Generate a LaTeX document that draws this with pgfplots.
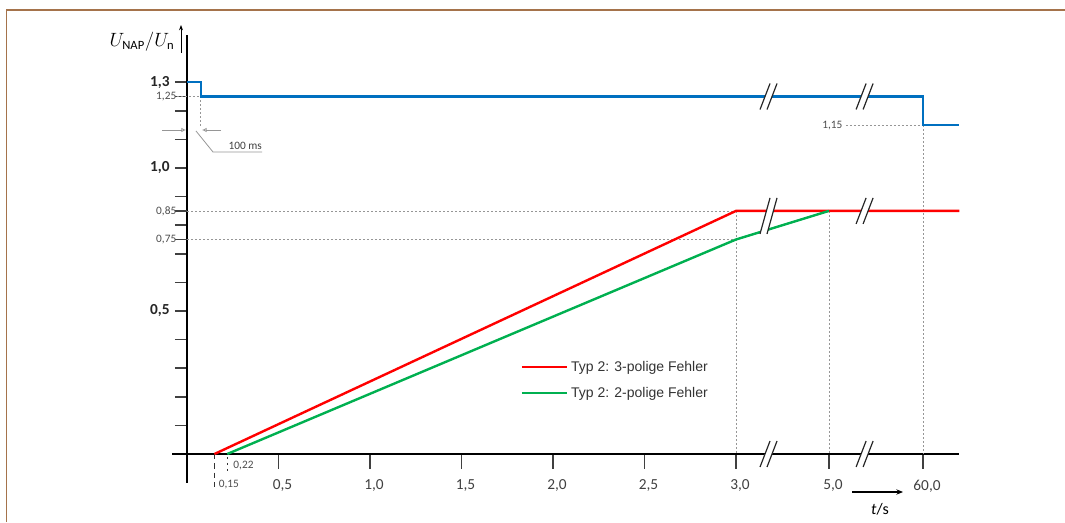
\documentclass[border=0pt]{standalone}
\usepackage{fontspec}
\setmainfont{Carlito}
\newfontfamily\arialfont{Liberation Sans}
\usepackage{pgfplots}
\pgfplotsset{compat=1.18}
\usetikzlibrary{arrows.meta}
\definecolor{myblue}{RGB}{0,112,192}
\definecolor{myred}{RGB}{255,0,0}
\definecolor{mygreen}{RGB}{0,176,80}
\definecolor{framec}{RGB}{165,115,75}
\definecolor{guide}{RGB}{150,150,150}
\newcommand{\smallf}{\fontsize{8.5}{10}\selectfont}
\newcommand{\brk}[2][0]{%
  \begin{scope}[shift={(#2)}]
    \fill[white] (-8,-13-#1) -- (-1,-13-#1) -- (9,13) -- (2,13) -- cycle;
    \draw[line width=0.9pt, black!85] (-8,-13-#1) -- (2,13) (-1,-13-#1) -- (9,13);
  \end{scope}}
\begin{document}
\begin{tikzpicture}[x=0.75pt,y=0.75pt]
\path[use as bounding box] (0,0) rectangle (1065,522);
\draw[framec, line width=1.2pt] (6.5,0) -- (6.5,512) -- (1065,512);
\begin{axis}[
  at={(140.25pt,51pt)}, anchor=origin,
  x=137.25pt, y=214.5pt,
  xmin=-0.08, xmax=4.22, ymin=-0.1, ymax=1.465,
  axis lines=middle,
  axis line style={line width=1.5pt,-},
  clip=false,
  tick align=outside,
  every tick/.style={line width=1.1pt, black!75},
  xtick={0.5,1,1.5,2,2.5,3,3.508,4.022},
  xticklabels={{0,5},{1,0},{1,5},{2,0},{2,5},{3,0},{5,0},{60,0}},
  xtick style={/pgfplots/major tick length=11pt},
  xticklabel style={font=\fontsize{11.5}{13}\selectfont, text=black!75, xshift=3pt, yshift=-11.5pt},
  ytick={0.1,0.2,0.3,0.4,0.5,0.6,0.7,0.8,0.9,1.0,1.1,1.2,1.3},
  yticklabels={,,,,{\textbf{0,5}},,,,,{\textbf{1,0}},,,{\textbf{1,3}}},
  ytick style={/pgfplots/major tick length=9pt},
  yticklabel style={font=\fontsize{11.5}{13}\selectfont, text=black!85, xshift=-5.25pt},
  extra y ticks={0.75,0.85,1.25},
  extra y tick labels={{0,75},{0,85},{1,25}},
  extra y tick style={/pgfplots/major tick length=0pt, yticklabel style={font=\smallf, text=black!70, xshift=0.75pt}},
  legend style={at={(axis cs:1.80,0.345)}, anchor=north west, draw=none, fill=none,
    font=\arialfont\fontsize{10.5}{12}\selectfont, text=black!80, row sep=6.5pt},
  legend cell align=left,
  legend image code/.code={\draw[#1, line width=1.8pt] (0pt,0pt) -- (34pt,0pt);},
]
% guide lines
\draw[guide, line width=0.5pt, dash pattern=on 1.5pt off 1.5pt]
  (axis cs:0,0.85) -- (axis cs:3,0.85)
  (axis cs:0,0.75) -- (axis cs:3,0.75)
  (axis cs:3,0.85) -- (axis cs:3,0)
  (axis cs:3.508,0.85) -- (axis cs:3.508,0)
  (axis cs:4.022,1.15) -- (axis cs:4.022,0)
  (axis cs:3.60,1.15) -- (axis cs:4.022,1.15)
  (axis cs:-0.055,1.25) -- (axis cs:0.075,1.25)
  (axis cs:0.075,1.25) -- (axis cs:0.075,1.14);
\node[anchor=east, font=\smallf, text=black!70, inner sep=1pt] at (axis cs:3.59,1.15) {1,15};
% 0,15 and 0,22 markers
\draw[black!80, line width=1pt, dash pattern=on 4pt off 3pt] (axis cs:0.15,0) -- (axis cs:0.15,-0.118);
\node[anchor=west, font=\smallf, text=black!70, inner sep=1pt] at (axis cs:0.165,-0.108) {0,15};
\draw[black!80, line width=1pt, dash pattern=on 1.5pt off 3pt] (axis cs:0.22,-0.01) -- (axis cs:0.22,-0.06);
\node[anchor=west, font=\smallf, text=black!70, inner sep=1pt] at (axis cs:0.245,-0.042) {0,22};
% data
\addplot[myblue, line width=1.8pt, forget plot] coordinates {(0,1.3) (0.075,1.3) (0.075,1.25) (4.022,1.25) (4.022,1.15) (4.22,1.15)};
\addplot[myred, line width=1.8pt] coordinates {(0.15,0) (3.0,0.85) (4.22,0.85)};
\addlegendentry{Typ 2: 3-polige Fehler}
\addplot[mygreen, line width=1.8pt] coordinates {(0.22,0) (3.0,0.75) (3.508,0.85)};
\addlegendentry{Typ 2: 2-polige Fehler}
\coordinate (xb1) at (axis cs:3.175,0);
\coordinate (xb2) at (axis cs:3.70,0);
\coordinate (rb1) at (axis cs:3.175,0.85);
\coordinate (rb2) at (axis cs:3.70,0.85);
\coordinate (bb1) at (axis cs:3.175,1.25);
\coordinate (bb2) at (axis cs:3.70,1.25);
\end{axis}
\brk{xb1}\brk{xb2}\brk[10]{rb1}\brk{rb2}\brk{bb1}\brk{bb2}
% 100 ms annotation
\draw[guide, line width=0.6pt, -{Latex[open,length=3.5pt,width=3.5pt]}] (162,392) -- (186,392);
\draw[guide, line width=0.6pt, -{Latex[open,length=3.5pt,width=3.5pt]}] (221,392) -- (202,392);
\draw[guide, line width=0.6pt] (196,391) -- (213,370) -- (262,370);
\node[anchor=south west, inner sep=1pt, font=\fontsize{8.5}{10}\selectfont, text=black!75] at (227,371) {100 ms};
% axis titles
\node[font=\fontsize{13.5}{15}\selectfont] at (142,480) {$U_{\mathrm{NAP}}/U_{\mathrm{n}}$};
\draw[line width=0.7pt, -{Stealth[length=4pt,width=3pt]}] (181,469) -- (181,497);
\draw[line width=0.8pt, -{Stealth[length=5pt,width=4pt]}] (852,30) -- (903,30);
\node[font=\fontsize{12}{14}\selectfont] at (880,13) {\textit{t}/s};
\end{tikzpicture}
\end{document}
